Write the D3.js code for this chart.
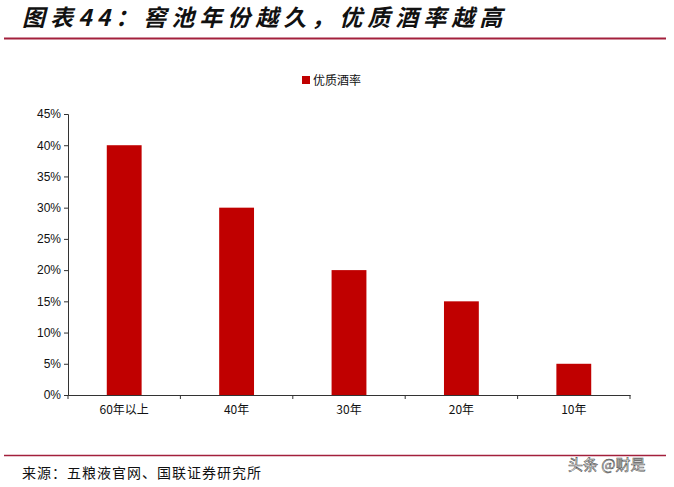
<!DOCTYPE html>
<html><head><meta charset="utf-8">
<script src="https://cdn.jsdelivr.net/npm/d3@7"></script>
<style>body{margin:0;background:#fff}</style>
</head><body>
<script>
var categories = ["60年以上", "40年", "30年", "20年", "10年"];
var values = [0.40, 0.30, 0.20, 0.15, 0.05];
var yTicks = [0, 0.05, 0.10, 0.15, 0.20, 0.25, 0.30, 0.35, 0.40, 0.45];

var svg = d3.select("body").append("svg").attr("width", 674).attr("height", 487);
var cjk = "'Noto Sans CJK SC', sans-serif";

svg.append("text").attr("x", 22).attr("y", 26)
.attr("font-family", cjk).attr("font-size", 23).attr("font-weight", "bold")
.attr("font-style", "italic").attr("fill", "#111").attr("letter-spacing", 5)
.text("图表44：窖池年份越久，优质酒率越高");
svg.append("line").attr("x1", 4).attr("x2", 666).attr("y1", 38.5).attr("y2", 38.5)
.attr("stroke", "#a3203c").attr("stroke-width", 2);

var x = d3.scaleBand().domain(categories).range([68, 630]).paddingInner(0.69).paddingOuter(0.345);
var y = d3.scaleLinear().domain([0, 0.45]).range([395, 114]);

svg.append("g").attr("transform", "translate(68,0)")
.call(d3.axisLeft(y).tickValues(yTicks).tickFormat(d3.format(".0%")).tickSize(4).tickSizeOuter(4))
.call(function(g) {
	g.selectAll("text").attr("font-family", "Liberation Sans, Arial").attr("font-size", 12).attr("fill", "#111");
	g.selectAll("line,path").attr("stroke", "#333");
});

var xa = svg.append("g").attr("transform", "translate(0,395)")
.call(d3.axisBottom(x).tickSize(0).tickPadding(10));
xa.selectAll("text").attr("font-family", cjk).attr("font-size", 12).attr("fill", "#111");
xa.select("path").attr("stroke", "#333");
// category separator ticks
xa.selectAll(".sep").data(d3.range(categories.length + 1)).enter().append("line")
.attr("x1", function(i) { return 68 + i * (562 / categories.length); })
.attr("x2", function(i) { return 68 + i * (562 / categories.length); })
.attr("y1", 0).attr("y2", 4).attr("stroke", "#333");

svg.selectAll(".bar").data(values).enter().append("rect")
.attr("x", function(d, i) { return x(categories[i]); })
.attr("y", function(d) { return y(d); })
.attr("width", x.bandwidth())
.attr("height", function(d) { return 395 - y(d); })
.attr("fill", "#c00000");

svg.append("rect").attr("x", 302).attr("y", 76).attr("width", 8).attr("height", 8).attr("fill", "#c00000");
svg.append("text").attr("x", 313).attr("y", 85).attr("font-family", cjk).attr("font-size", 12)
.attr("fill", "#111").text("优质酒率");

svg.append("line").attr("x1", 4).attr("x2", 666).attr("y1", 455.5).attr("y2", 455.5)
.attr("stroke", "#a3203c").attr("stroke-width", 1.5);
svg.append("text").attr("x", 22).attr("y", 478).attr("font-family", cjk).attr("font-size", 14)
.attr("fill", "#111").attr("letter-spacing", 1).text("来源：五粮液官网、国联证券研究所");
svg.append("text").attr("x", 568).attr("y", 470).attr("font-family", cjk).attr("font-size", 15)
.attr("fill", "#fff").attr("stroke", "#555").attr("stroke-width", 0.6).text("头条 @财是");
</script>
</body></html>
